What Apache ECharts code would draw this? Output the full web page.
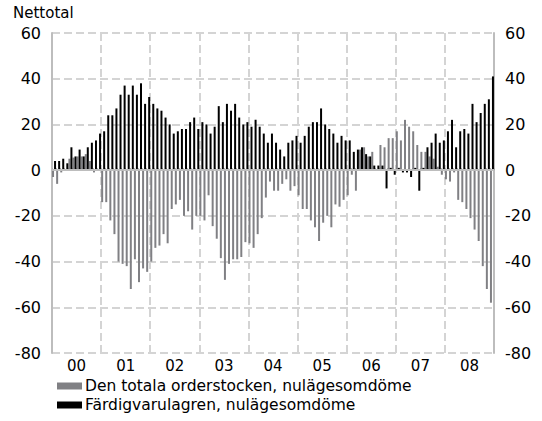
<!DOCTYPE html>
<html>
<head>
<meta charset="utf-8">
<script src="https://cdn.jsdelivr.net/npm/echarts@6/dist/echarts.min.js"></script>
<style>
  html, body { margin: 0; padding: 0; background: #fff; }
  #main { width: 542px; height: 421px; }
</style>
</head>
<body>
<div id="main"></div>
<script>
// år (etiketter på x-axeln)
let years = ['00', '01', '02', '03', '04', '05', '06', '07', '08']
// Den totala orderstocken, nulägesomdöme (grå staplar), en rad per år
let orderstock = [
  -3, -6, -1, 0, 5, 5.5, 6, 6, 7, 4, -1, 0,
  -14, -14, -22, -28, -40, -41, -42, -52, -39, -49, -43, -44.5,
  -40, -34, -33, -28, -32, -17, -15, -13, -20, -18, -26, -20,
  -20, -22, -11, -24.5, -30, -38.5, -48, -41, -39, -39, -38, -31.5,
  -32, -34, -28, -21, -12, -5, -9, -9, -6, -4, -9, -7,
  -11, -17, -17, -22, -25, -31, -23, -20, -25, -15, -16, -13,
  -11, -2, -9, 9, 10, 6, 8, 0.5, 11, 10, 14, 14,
  17, 13, 22, 19, 17, 11, 8, 8, 6, 5, 1.5, -2,
  -4, -5, -1, -13, -14, -17, -21, -26, -31, -42, -52, -58
]
// Färdigvarulagren, nulägesomdöme (svarta staplar)
let lager = [
  4, 4, 5, 3, 10, 6, 9, 6, 10, 12, 13, 16,
  17, 24, 24, 27, 33, 37, 33, 37, 33, 38, 29, 32,
  29, 27, 26, 23, 20, 16, 17, 18, 18, 21, 23, 18,
  21, 20, 16, 19, 28, 21, 29, 26, 29, 23, 20, 21,
  19, 22, 19, 16, 12, 16, 12, 9, 6, 12, 13, 15,
  12, 15, 19, 21, 21, 27, 20, 18, 16, 12, 15, 13,
  13, 8, 9, 10, 7, 6, 2, 2, 2, -8, 1, -2,
  1, -1, -1, -3, 1, -9, 1, 10, 12, 16, 12, 13,
  17, 22, 10, 17, 18, 16, 29, 21, 25, 29, 31, 41
]
let yMin = -80
let yMax = 60
let yStep = 20

// månader som kategorier, årets etikett ligger på juli
let months = []
years.forEach(function (y) {
  for (let m = 1; m <= 12; m++) {
    months.push(m === 7 ? y : y + '-' + m)
  }
})

let gridColor = '#d4d4d4'
let axisColor = '#bdbdbd'

// svg-renderaren ritar linjerna i den här miljön
let myChart = echarts.init(document.getElementById('main'), null, { renderer: 'svg' })
let option = {
  animation: false,
  textStyle: { fontFamily: 'DejaVu Sans' },
  title: {
    text: 'Nettotal',
    left: 13,
    top: 5,
    padding: 0,
    textStyle: { fontSize: 15, lineHeight: 15, fontWeight: 'normal', color: '#000' }
  },
  legend: {
    orient: 'vertical',
    left: 57,
    top: 378,
    padding: 0,
    itemGap: 3,
    itemWidth: 25,
    itemHeight: 7,
    icon: 'rect',
    textStyle: { fontSize: 15.5, color: '#000', padding: [0, 0, 0, -2] },
    data: ['Den totala orderstocken, nulägesomdöme', 'Färdigvarulagren, nulägesomdöme']
  },
  grid: {
    left: 52,
    right: 48,
    top: 33,
    bottom: 68
  },
  xAxis: {
    type: 'category',
    data: months,
    axisLine: { show: true, lineStyle: { color: axisColor, width: 1 } },
    axisTick: { show: true, interval: 0, inside: true, length: 2, lineStyle: { color: '#a8a8a8', width: 1 } },
    axisLabel: {
      show: true,
      margin: 5,
      fontSize: 15,
      color: '#000',
      padding: [0, 4, 0, 0],
      interval: function (index) {
        return index % 12 === 6
      }
    },
    splitLine: {
      show: true,
      interval: function (index) {
        return index % 12 === 0
      },
      lineStyle: { color: gridColor, width: 2, type: 'dashed' }
    }
  },
  yAxis: [
    {
      type: 'value',
      min: yMin,
      max: yMax,
      interval: yStep,
      position: 'left',
      axisLine: { show: true, lineStyle: { color: axisColor, width: 2 } },
      axisTick: { show: false },
      axisLabel: { margin: 11, fontSize: 16, color: '#000' },
      splitLine: { show: true, lineStyle: { color: gridColor, width: 2, type: 'dashed' } }
    },
    {
      type: 'value',
      min: yMin,
      max: yMax,
      interval: yStep,
      position: 'right',
      axisLine: { show: true, lineStyle: { color: axisColor, width: 2 } },
      axisTick: { show: false },
      axisLabel: { margin: 11, fontSize: 16, color: '#000' },
      splitLine: { show: false }
    }
  ],
  series: [
    {
      name: 'Den totala orderstocken, nulägesomdöme',
      type: 'bar',
      barWidth: 2,
      barGap: '0%',
      itemStyle: { color: '#808084' },
      data: orderstock
    },
    {
      name: 'Färdigvarulagren, nulägesomdöme',
      type: 'bar',
      barWidth: 2,
      barGap: '0%',
      itemStyle: { color: '#000' },
      data: lager,
      markLine: {
        silent: true,
        symbol: 'none',
        label: { show: false },
        lineStyle: { color: axisColor, type: 'solid', width: 2 },
        data: [{ yAxis: 0 }]
      }
    }
  ]
}
myChart.setOption(option)
</script>
</body>
</html>
